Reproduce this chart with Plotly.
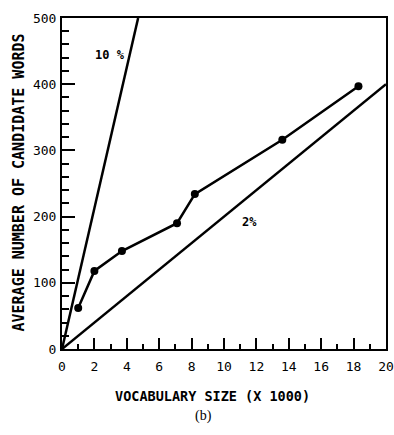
import plotly.graph_objects as go

vocab_size = [1.0, 2.0, 3.7, 7.1, 8.2, 13.6, 18.3]
avg_candidates = [62, 118, 148, 190, 234, 316, 397]
line10_x = [0, 4.7]
line10_y = [0, 500]
line2_x = [0, 20]
line2_y = [0, 400]
x_ticks = [0, 2, 4, 6, 8, 10, 12, 14, 16, 18, 20]
y_ticks = [0, 100, 200, 300, 400, 500]

font_family = "DejaVu Sans Mono"
fig = go.Figure()
fig.add_trace(go.Scatter(x=line10_x, y=line10_y, mode="lines",
                         line=dict(color="black", width=2.5)))
fig.add_trace(go.Scatter(x=line2_x, y=line2_y, mode="lines",
                         line=dict(color="black", width=2.5)))
fig.add_trace(go.Scatter(x=vocab_size, y=avg_candidates, mode="lines+markers",
                         line=dict(color="black", width=2.5),
                         marker=dict(color="black", size=8)))

# plot area in page pixels: x 62..386, y 18..349
PW, PH = 324, 331
fig.add_annotation(x=2.96, y=444, text="<b>10 %</b>", showarrow=False,
                   xanchor="center", yanchor="middle",
                   font=dict(family=font_family, size=12, color="black"))
fig.add_annotation(x=11.55, y=192, text="<b>2%</b>", showarrow=False,
                   xanchor="center", yanchor="middle",
                   font=dict(family=font_family, size=12, color="black"))
fig.add_annotation(x=(212 - 62) / PW, xref="paper", y=-(396 - 349) / PH, yref="paper",
                   text="<b>VOCABULARY SIZE (X 1000)</b>", showarrow=False,
                   xanchor="center", yanchor="middle",
                   font=dict(family=font_family, size=13.5, color="black"))
fig.add_annotation(x=-(62 - 18.5) / PW, xref="paper", y=(349 - 183) / PH, yref="paper",
                   text="<b>AVERAGE NUMBER OF CANDIDATE WORDS</b>", showarrow=False,
                   textangle=-90, xanchor="center", yanchor="middle",
                   font=dict(family=font_family, size=15, color="black"))
fig.add_annotation(x=(203 - 62) / PW, xref="paper", y=-(416 - 349) / PH, yref="paper",
                   text="(b)", showarrow=False,
                   xanchor="center", yanchor="middle",
                   font=dict(family="Liberation Serif", size=14, color="black"))

axis_common = dict(showline=True, linecolor="black", linewidth=2, mirror=True,
                   ticks="inside", tickcolor="black", tickwidth=2,
                   showgrid=False, zeroline=False, automargin=False,
                   tickfont=dict(family=font_family, size=13, color="black"))

fig.update_xaxes(range=[0, 20], tickvals=x_ticks, ticklen=11, ticklabelstandoff=4,
                 minor=dict(dtick=1, ticklen=5, tickwidth=2, tickcolor="black",
                            ticks="inside"),
                 **axis_common)
fig.update_yaxes(range=[0, 500], tickvals=y_ticks, ticklen=13, ticklabelstandoff=1,
                 minor=dict(dtick=20, ticklen=7, tickwidth=2, tickcolor="black",
                            ticks="inside"),
                 **axis_common)

fig.update_layout(width=394, height=435, showlegend=False,
                  margin=dict(l=62, r=8, t=18, b=86),
                  plot_bgcolor="white", paper_bgcolor="white",
                  font=dict(family=font_family, color="black"))
fig.update_xaxes(tickprefix="<b>", ticksuffix="</b>")
fig.update_yaxes(tickprefix="<b>", ticksuffix="</b>")
fig.write_html(
    "out.html",
    config={"displayModeBar": False},
    post_script="document.body.style.margin='0px';"
                "document.documentElement.style.overflow='hidden';"
                "document.body.style.overflow='hidden';",
)
